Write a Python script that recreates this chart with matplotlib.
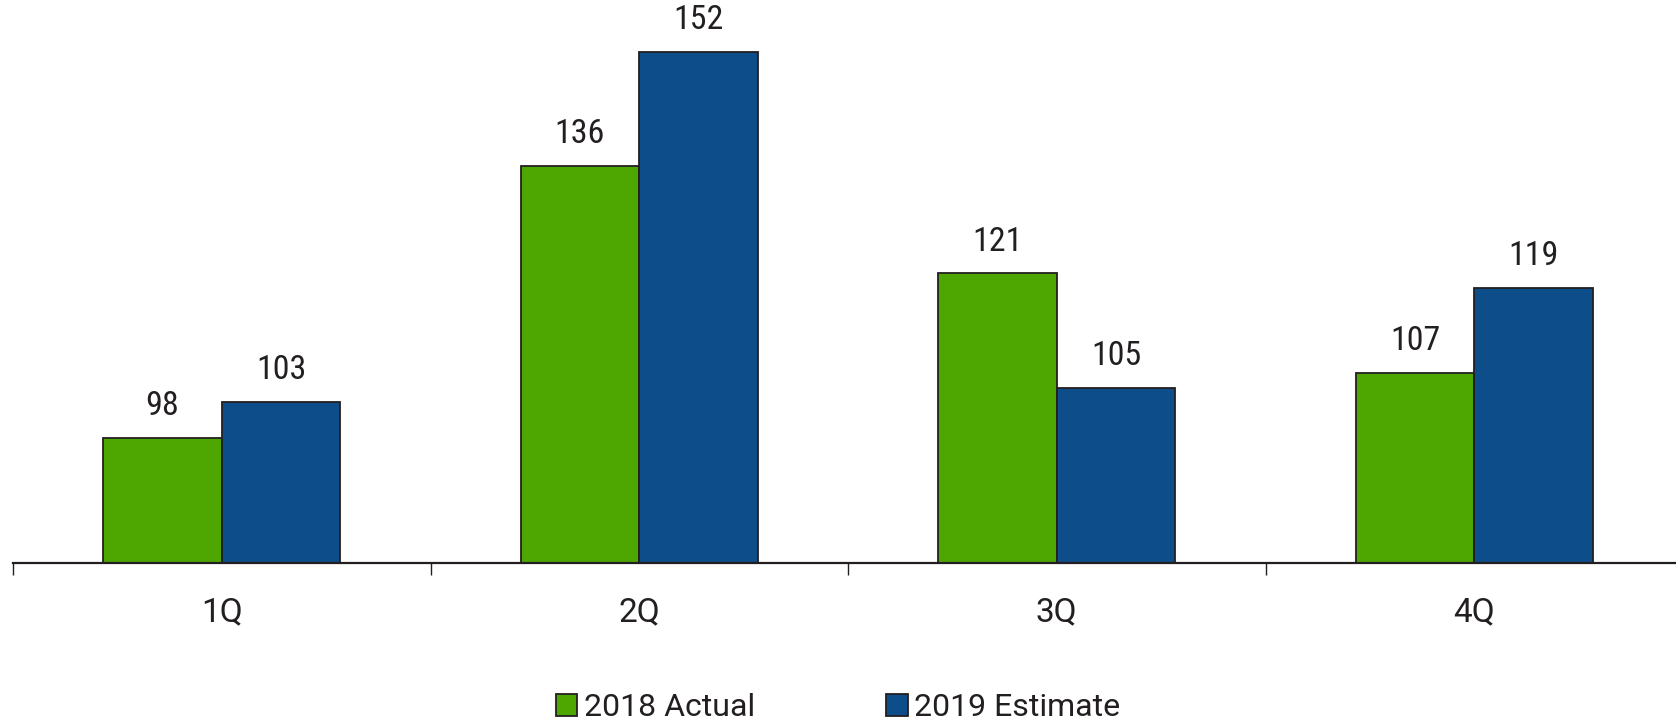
import matplotlib
matplotlib.use("Agg")
import matplotlib.pyplot as plt
import numpy as np

categories = ["1Q", "2Q", "3Q", "4Q"]
series_names = ["2018 Actual", "2019 Estimate"]
actual_2018 = [98, 136, 121, 107]
estimate_2019 = [103, 152, 105, 119]

colors = ["#4EA600", "#0D4D8A"]
edge = "#231F20"
txt = "#231F20"

plt.rcParams['font.family'] = ['Roboto Condensed', 'Archivo Narrow', 'DejaVu Sans']
wide_font = ['Roboto', 'DejaVu Sans']

W, H = 1676, 723
fig = plt.figure(figsize=(W / 100, H / 100), dpi=100)
base_px = 562.7
left_px = 13
ax = fig.add_axes([left_px / W, 1 - base_px / H, (W - left_px) / W, base_px / H])

x = np.arange(len(categories))
bw = 0.284
b1 = ax.bar(x - bw / 2, actual_2018, bw, color=colors[0], edgecolor=edge, linewidth=1.3,
            label=series_names[0])
b2 = ax.bar(x + bw / 2, estimate_2019, bw, color=colors[1], edgecolor=edge, linewidth=1.3,
            label=series_names[1])
for b in (b1, b2):
    ax.bar_label(b, padding=11.5, fontsize=24.5, color=txt)

ax.set_ylim(80.5, 80.5 + base_px / 7.141)
ax.set_xlim(-0.5, -0.5 + (W - left_px) / 417.5)

for s in ["top", "right", "left"]:
    ax.spines[s].set_visible(False)
ax.spines["bottom"].set_color(edge)
ax.spines["bottom"].set_linewidth(1.6)
ax.set_yticks([])
ax.set_xticks(x)
ax.set_xticklabels(categories, fontsize=24, color=txt, family=wide_font)
ax.tick_params(axis="x", which="major", length=0, pad=24)
ax.set_xticks([-0.5, 0.5, 1.5, 2.5], minor=True)
ax.tick_params(axis="x", which="minor", length=8.5, width=1.0, color=edge, direction="out")

leg = fig.legend(handles=[b1, b2], labels=series_names, loc="lower center",
                 bbox_to_anchor=(0.5, -0.039), ncol=2, frameon=False,
                 prop={"family": wide_font, "size": 23},
                 handlelength=0.68, handleheight=0.68, handletextpad=0.2,
                 columnspacing=4.1)
for t in leg.get_texts():
    t.set_color(txt)

fig.savefig("out.png", dpi=100)
